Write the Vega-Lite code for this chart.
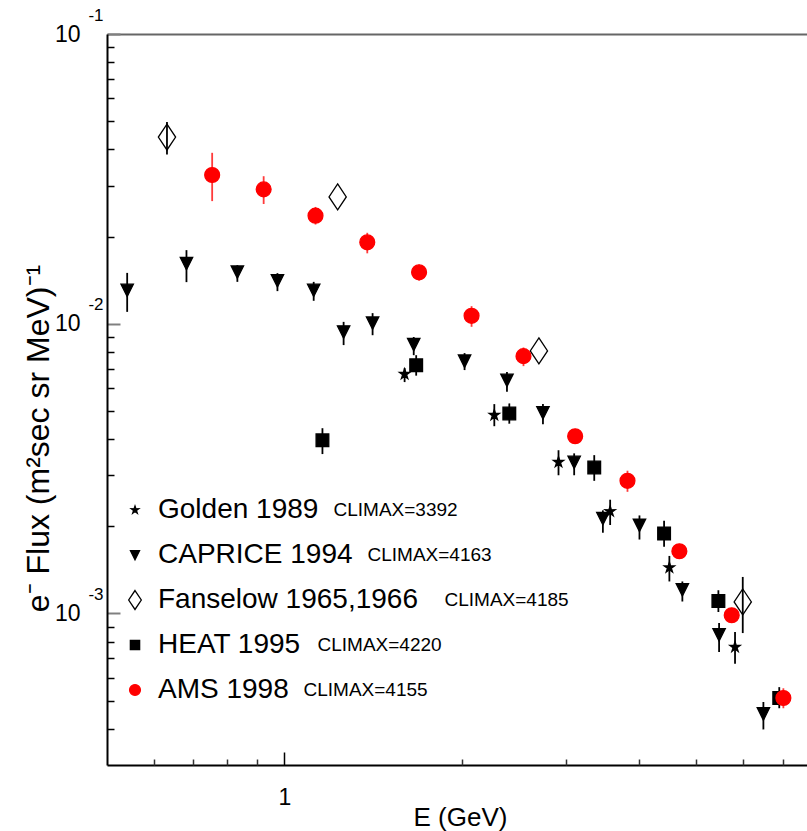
{
  "$schema": "https://vega.github.io/schema/vega-lite/v6.json",
  "width": 700,
  "height": 731,
  "autosize": {"type": "none"},
  "padding": {"left": 107, "top": 34, "right": 0, "bottom": 66},
  "background": "white",
  "config": {
    "font": "Liberation Sans",
    "view": {"stroke": null},
    "axis": {"grid": false, "labelFlush": false, "labelOverlap": false, "labelBound": false},
    "legend": {"orient": "none", "legendX": 14, "legendY": 462, "labelFontSize": 28, "labelColor": "black", "rowPadding": 17, "padding": 0, "labelOffset": 9, "symbolSize": 390, "symbolStrokeWidth": 1.3, "labelLimit": 500}
  },
  "data": {
    "values": [
      {"series": "Golden 1989", "climax": "CLIMAX=3392", "energy": 1.599, "flux": 0.0067, "low": 0.00629, "high": 0.00703},
      {"series": "Golden 1989", "climax": "CLIMAX=3392", "energy": 2.27, "flux": 0.00484, "low": 0.00443, "high": 0.00528},
      {"series": "Golden 1989", "climax": "CLIMAX=3392", "energy": 2.917, "flux": 0.00333, "low": 0.003, "high": 0.00366},
      {"series": "Golden 1989", "climax": "CLIMAX=3392", "energy": 3.569, "flux": 0.00225, "low": 0.00202, "high": 0.00247},
      {"series": "Golden 1989", "climax": "CLIMAX=3392", "energy": 4.498, "flux": 0.00144, "low": 0.00129, "high": 0.00158},
      {"series": "Golden 1989", "climax": "CLIMAX=3392", "energy": 5.813, "flux": 0.000766, "low": 0.000671, "high": 0.000863},
      {"series": "CAPRICE 1994", "climax": "CLIMAX=4163", "energy": 0.541, "flux": 0.01306, "low": 0.01099, "high": 0.01498},
      {"series": "CAPRICE 1994", "climax": "CLIMAX=4163", "energy": 0.682, "flux": 0.01615, "low": 0.01392, "high": 0.01795},
      {"series": "CAPRICE 1994", "climax": "CLIMAX=4163", "energy": 0.832, "flux": 0.0151, "low": 0.01395, "high": 0.01593},
      {"series": "CAPRICE 1994", "climax": "CLIMAX=4163", "energy": 0.973, "flux": 0.01409, "low": 0.01296, "high": 0.01495},
      {"series": "CAPRICE 1994", "climax": "CLIMAX=4163", "energy": 1.121, "flux": 0.01306, "low": 0.012, "high": 0.01395},
      {"series": "CAPRICE 1994", "climax": "CLIMAX=4163", "energy": 1.26, "flux": 0.00938, "low": 0.00844, "high": 0.01015},
      {"series": "CAPRICE 1994", "climax": "CLIMAX=4163", "energy": 1.411, "flux": 0.01007, "low": 0.00913, "high": 0.01088},
      {"series": "CAPRICE 1994", "climax": "CLIMAX=4163", "energy": 1.657, "flux": 0.00849, "low": 0.00779, "high": 0.009},
      {"series": "CAPRICE 1994", "climax": "CLIMAX=4163", "energy": 2.021, "flux": 0.00744, "low": 0.00692, "high": 0.00792},
      {"series": "CAPRICE 1994", "climax": "CLIMAX=4163", "energy": 2.385, "flux": 0.00639, "low": 0.00582, "high": 0.00682},
      {"series": "CAPRICE 1994", "climax": "CLIMAX=4163", "energy": 2.745, "flux": 0.00494, "low": 0.0045, "high": 0.00528},
      {"series": "CAPRICE 1994", "climax": "CLIMAX=4163", "energy": 3.101, "flux": 0.00333, "low": 0.003, "high": 0.00357},
      {"series": "CAPRICE 1994", "climax": "CLIMAX=4163", "energy": 3.469, "flux": 0.00213, "low": 0.0019, "high": 0.00227},
      {"series": "CAPRICE 1994", "climax": "CLIMAX=4163", "energy": 4.002, "flux": 0.00202, "low": 0.0018, "high": 0.00218},
      {"series": "CAPRICE 1994", "climax": "CLIMAX=4163", "energy": 4.732, "flux": 0.00121, "low": 0.0011, "high": 0.00129},
      {"series": "CAPRICE 1994", "climax": "CLIMAX=4163", "energy": 5.462, "flux": 0.000846, "low": 0.000736, "high": 0.000927},
      {"series": "CAPRICE 1994", "climax": "CLIMAX=4163", "energy": 6.494, "flux": 0.000451, "low": 0.000398, "high": 0.000495},
      {"series": "Fanselow 1965,1966", "climax": "CLIMAX=4185", "energy": 0.632, "flux": 0.0441, "low": 0.0384, "high": 0.0497},
      {"series": "Fanselow 1965,1966", "climax": "CLIMAX=4185", "energy": 1.231, "flux": 0.0274, "low": 0.0274, "high": 0.0274},
      {"series": "Fanselow 1965,1966", "climax": "CLIMAX=4185", "energy": 2.702, "flux": 0.00806, "low": 0.00806, "high": 0.00806},
      {"series": "Fanselow 1965,1966", "climax": "CLIMAX=4185", "energy": 5.991, "flux": 0.001096, "low": 0.000856, "high": 0.001337},
      {"series": "HEAT 1995", "climax": "CLIMAX=4220", "energy": 1.16, "flux": 0.00396, "low": 0.00355, "high": 0.00436},
      {"series": "HEAT 1995", "climax": "CLIMAX=4220", "energy": 1.673, "flux": 0.00719, "low": 0.00662, "high": 0.00779},
      {"series": "HEAT 1995", "climax": "CLIMAX=4220", "energy": 2.407, "flux": 0.0049, "low": 0.00452, "high": 0.00531},
      {"series": "HEAT 1995", "climax": "CLIMAX=4220", "energy": 3.354, "flux": 0.00319, "low": 0.00287, "high": 0.00352},
      {"series": "HEAT 1995", "climax": "CLIMAX=4220", "energy": 4.406, "flux": 0.00189, "low": 0.0017, "high": 0.00209},
      {"series": "HEAT 1995", "climax": "CLIMAX=4220", "energy": 5.447, "flux": 0.001105, "low": 0.001012, "high": 0.001203},
      {"series": "HEAT 1995", "climax": "CLIMAX=4220", "energy": 6.909, "flux": 0.000511, "low": 0.000471, "high": 0.000557},
      {"series": "AMS 1998", "climax": "CLIMAX=4155", "energy": 0.754, "flux": 0.0326, "low": 0.0265, "high": 0.0389},
      {"series": "AMS 1998", "climax": "CLIMAX=4155", "energy": 0.922, "flux": 0.0291, "low": 0.0259, "high": 0.0323},
      {"series": "AMS 1998", "climax": "CLIMAX=4155", "energy": 1.129, "flux": 0.0236, "low": 0.022, "high": 0.0253},
      {"series": "AMS 1998", "climax": "CLIMAX=4155", "energy": 1.382, "flux": 0.0191, "low": 0.0175, "high": 0.0206},
      {"series": "AMS 1998", "climax": "CLIMAX=4155", "energy": 1.692, "flux": 0.01505, "low": 0.01409, "high": 0.01601},
      {"series": "AMS 1998", "climax": "CLIMAX=4155", "energy": 2.077, "flux": 0.01065, "low": 0.00976, "high": 0.0115},
      {"series": "AMS 1998", "climax": "CLIMAX=4155", "energy": 2.544, "flux": 0.00773, "low": 0.00714, "high": 0.00828},
      {"series": "AMS 1998", "climax": "CLIMAX=4155", "energy": 3.113, "flux": 0.00409, "low": 0.00387, "high": 0.00433},
      {"series": "AMS 1998", "climax": "CLIMAX=4155", "energy": 3.819, "flux": 0.00287, "low": 0.00263, "high": 0.00311},
      {"series": "AMS 1998", "climax": "CLIMAX=4155", "energy": 4.677, "flux": 0.00164, "low": 0.00156, "high": 0.00173},
      {"series": "AMS 1998", "climax": "CLIMAX=4155", "energy": 5.738, "flux": 0.000986, "low": 0.000933, "high": 0.001042},
      {"series": "AMS 1998", "climax": "CLIMAX=4155", "energy": 7.021, "flux": 0.000511, "low": 0.000471, "high": 0.000552}
    ]
  },
  "resolve": {"axis": {"x": "independent", "y": "independent"}, "scale": {"y": "independent"}},
  "layer": [
    {
      "mark": {"type": "rule", "strokeWidth": 1.8},
      "encoding": {
        "x": {
          "field": "energy", "type": "quantitative",
          "scale": {"type": "log", "domain": [0.5, 7.7], "nice": false},
          "axis": {
            "orient": "bottom", "values": [1], "tickSize": -13, "tickColor": "black", "tickWidth": 1.5,
            "domainColor": "black", "domainWidth": 2,
            "labelExpr": "'1'", "labelFontSize": 23, "labelPadding": 34, "labelColor": "black",
            "title": "E (GeV)", "titleFontSize": 26, "titleFontWeight": "normal", "titleColor": "black",
            "titleX": 353, "titleY": 60, "titleBaseline": "alphabetic"
          }
        },
        "y": {
          "field": "low", "type": "quantitative",
          "scale": {"type": "log", "domain": [0.0003, 0.1], "nice": false},
          "axis": {
            "orient": "left", "values": [0.1, 0.01, 0.001], "tickSize": -13, "tickColor": "#808080", "tickWidth": 2,
            "domainColor": "black", "domainWidth": 2,
            "labelExpr": "'10'", "labelFontSize": 23, "labelPadding": 40, "labelColor": "black", "labelBaseline": "middle",
            "title": "e⁻ Flux (m²sec sr MeV)⁻¹", "titleFontSize": 32, "titleFontWeight": "normal", "titleColor": "black",
            "titleX": -59, "titleY": 404, "titleBaseline": "alphabetic", "titleAngle": 270
          }
        },
        "y2": {"field": "high"},
        "color": {"condition": {"test": "datum.series == 'AMS 1998'", "value": "#ff3b3b"}, "value": "black"}
      }
    },
    {
      "mark": {"type": "point", "size": 729, "strokeWidth": 1.3, "opacity": 1, "filled": true},
      "encoding": {
        "x": {
          "field": "energy", "type": "quantitative",
          "scale": {"type": "log", "domain": [0.5, 7.7], "nice": false},
          "axis": {"orient": "bottom", "values": [0.6, 0.7, 0.8, 0.9, 2, 3, 4, 5, 6, 7], "tickSize": -6, "tickColor": "#333333", "tickWidth": 1.5, "domain": false, "labels": false, "title": null}
        },
        "y": {
          "field": "flux", "type": "quantitative",
          "scale": {"type": "log", "domain": [0.0003, 0.1], "nice": false},
          "axis": {"orient": "left", "values": [0.09, 0.08, 0.07, 0.06, 0.05, 0.04, 0.03, 0.02, 0.009, 0.008, 0.007, 0.006, 0.005, 0.004, 0.003, 0.002, 0.0009, 0.0008, 0.0007, 0.0006, 0.0005, 0.0004], "tickSize": -7, "tickColor": "black", "tickWidth": 1.5, "domain": false, "labels": false, "title": null}
        },
        "shape": {
          "field": "series", "type": "nominal",
          "scale": {
            "domain": ["Golden 1989", "CAPRICE 1994", "Fanselow 1965,1966", "HEAT 1995", "AMS 1998"],
            "range": [
              "M0,-0.4L0.09,-0.123L0.38,-0.124L0.145,0.047L0.235,0.324L0,0.152L-0.235,0.324L-0.145,0.047L-0.38,-0.124L-0.09,-0.123Z",
              "M-0.46,-0.44L0.46,-0.44L0,0.48Z",
              "M0,-0.96L0.64,0L0,0.96L-0.64,0Z",
              "M-0.47,-0.47L0.47,-0.47L0.47,0.47L-0.47,0.47Z",
              "M0.55,0A0.55,0.55,0,1,1,-0.55,0A0.55,0.55,0,1,1,0.55,0Z"
            ]
          },
          "legend": {"orient": "none", "legendX": 14, "legendY": 462, "title": null, "labelExpr": "datum.label == 'Fanselow 1965,1966' ? '\u2009\u2009' + datum.label : datum.label"}
        },
        "fill": {
          "field": "series", "type": "nominal",
          "scale": {"domain": ["Golden 1989", "CAPRICE 1994", "Fanselow 1965,1966", "HEAT 1995", "AMS 1998"], "range": ["black", "black", "transparent", "black", "red"]},
          "legend": {"orient": "none", "legendX": 14, "legendY": 462, "title": null, "labelExpr": "datum.label == 'Fanselow 1965,1966' ? '\u2009\u2009' + datum.label : datum.label"}
        },
        "stroke": {
          "field": "series", "type": "nominal",
          "scale": {"domain": ["Golden 1989", "CAPRICE 1994", "Fanselow 1965,1966", "HEAT 1995", "AMS 1998"], "range": ["black", "black", "black", "black", "red"]},
          "legend": {"orient": "none", "legendX": 14, "legendY": 462, "title": null, "labelExpr": "datum.label == 'Fanselow 1965,1966' ? '\u2009\u2009' + datum.label : datum.label"}
        }
      }
    },
    {
      "mark": {"type": "point", "size": 1, "opacity": 0},
      "encoding": {
        "x": {
          "field": "energy", "type": "quantitative",
          "scale": {"type": "log", "domain": [0.5, 7.7], "nice": false},
          "axis": {"orient": "top", "domainColor": "#666666", "domainWidth": 2, "ticks": false, "labels": false, "title": null}
        },
        "y": {
          "field": "flux", "type": "quantitative",
          "scale": {"type": "log", "domain": [0.0003, 0.1], "nice": false},
          "axis": {
            "orient": "left", "values": [0.1, 0.01, 0.001], "ticks": false, "domain": false,
            "labelExpr": "datum.value > 0.05 ? '-1' : (datum.value > 0.005 ? '-2' : '-3')",
            "labelFontSize": 17, "labelPadding": 4, "labelOffset": -19, "labelColor": "black", "labelBaseline": "middle", "title": null
          }
        }
      }
    },
    {
      "mark": {"type": "point", "size": 1, "opacity": 0},
      "encoding": {
        "x": {
          "field": "energy", "type": "quantitative",
          "scale": {"type": "log", "domain": [0.5, 7.7], "nice": false},
          "axis": null
        },
        "y": {
          "field": "climax", "type": "nominal",
          "scale": {"type": "point", "domain": ["CLIMAX=3392", "CLIMAX=4163", "CLIMAX=4185", "CLIMAX=4220", "CLIMAX=4155"], "range": [475, 655], "padding": 0},
          "axis": {
            "orient": "left", "offset": -196, "ticks": false, "domain": false,
            "labelAlign": "left", "labelFontSize": 19, "labelColor": "black", "labelBaseline": "middle", "labelLimit": 500, "title": null,
            "labelPadding": {
              "condition": [
                {"test": "datum.value == 'CLIMAX=3392'", "value": -30},
                {"test": "datum.value == 'CLIMAX=4163'", "value": -64},
                {"test": "datum.value == 'CLIMAX=4185'", "value": -141},
                {"test": "datum.value == 'CLIMAX=4220'", "value": -14}
              ],
              "value": 0
            }
          }
        }
      }
    }
  ]
}
